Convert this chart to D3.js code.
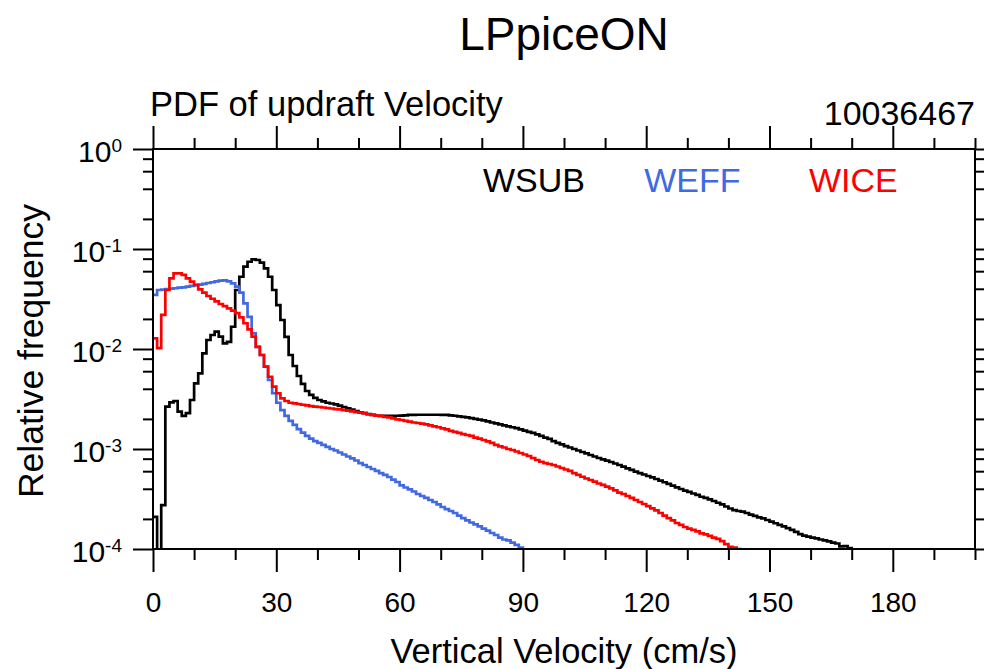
<!DOCTYPE html>
<html><head><meta charset="utf-8">
<script src="https://cdn.jsdelivr.net/npm/d3@7"></script>
<style>body{margin:0;background:#fff}svg{display:block}text{font-family:"Liberation Sans",Arial,sans-serif}</style>
</head><body><svg id="c" width="984" height="669"></svg>
<script>
// ---- data (bin width 1 cm/s, starting at 0) ----
const titleText = "LPpiceON";
const leftTitle = "PDF of updraft Velocity";
const rightTitle = "10036467";
const xLabel = "Vertical Velocity (cm/s)";
const yLabel = "Relative frequency";
const seriesNames = ["WSUB", "WEFF", "WICE"];
const seriesColors = ["#000000", "#4169e1", "#ff0000"];
const xMajorTicks = [0, 30, 60, 90, 120, 150, 180];
const yMajorExp = [0, -1, -2, -3, -4];

const wsub = [2.10e-4,0,2.75e-4,2.65e-3,2.93e-3,3.02e-3,2.36e-3,2.14e-3,2.28e-3,3.09e-3,
4.54e-3,5.71e-3,9.05e-3,1.23e-2,1.38e-2,1.49e-2,1.33e-2,1.14e-2,1.18e-2,1.67e-2,
3.89e-2,5.28e-2,6.65e-2,7.46e-2,7.88e-2,7.76e-2,7.30e-2,6.41e-2,5.28e-2,3.89e-2,
2.75e-2,1.95e-2,1.32e-2,8.71e-3,6.76e-3,5.37e-3,4.47e-3,3.80e-3,3.47e-3,3.24e-3,
3.09e-3,2.99e-3,2.90e-3,2.85e-3,2.79e-3,2.72e-3,2.63e-3,2.55e-3,2.48e-3,2.40e-3,
2.33e-3,2.28e-3,2.24e-3,2.19e-3,2.15e-3,2.14e-3,2.14e-3,2.14e-3,2.14e-3,2.15e-3,
2.16e-3,2.17e-3,2.19e-3,2.19e-3,2.20e-3,2.20e-3,2.20e-3,2.20e-3,2.20e-3,2.20e-3,
2.19e-3,2.19e-3,2.17e-3,2.15e-3,2.12e-3,2.10e-3,2.07e-3,2.04e-3,2.00e-3,1.97e-3,
1.93e-3,1.89e-3,1.84e-3,1.80e-3,1.76e-3,1.72e-3,1.68e-3,1.65e-3,1.62e-3,1.57e-3,
1.53e-3,1.48e-3,1.45e-3,1.40e-3,1.35e-3,1.30e-3,1.26e-3,1.20e-3,1.15e-3,1.11e-3,
1.07e-3,1.035e-3,1.00e-3,9.66e-4,9.33e-4,9.05e-4,8.71e-4,8.41e-4,8.13e-4,7.88e-4,
7.64e-4,7.41e-4,7.16e-4,6.92e-4,6.65e-4,6.41e-4,6.17e-4,5.93e-4,5.75e-4,5.56e-4,
5.37e-4,5.21e-4,5.01e-4,4.82e-4,4.65e-4,4.47e-4,4.30e-4,4.14e-4,3.98e-4,3.83e-4,
3.72e-4,3.59e-4,3.47e-4,3.33e-4,3.24e-4,3.13e-4,3.02e-4,2.90e-4,2.79e-4,2.66e-4,
2.54e-4,2.45e-4,2.40e-4,2.37e-4,2.29e-4,2.21e-4,2.14e-4,2.07e-4,2.02e-4,1.95e-4,
1.88e-4,1.81e-4,1.74e-4,1.68e-4,1.62e-4,1.55e-4,1.48e-4,1.41e-4,1.36e-4,1.33e-4,
1.30e-4,1.28e-4,1.245e-4,1.22e-4,1.19e-4,1.16e-4,1.135e-4,1.06e-4,1.07e-4,1.02e-4,
9.5e-5];

const weff = [3.47e-2,3.89e-2,3.92e-2,3.98e-2,4.01e-2,4.05e-2,4.10e-2,4.14e-2,4.20e-2,4.27e-2,
4.34e-2,4.40e-2,4.47e-2,4.57e-2,4.65e-2,4.75e-2,4.82e-2,4.86e-2,4.75e-2,4.54e-2,
4.20e-2,3.66e-2,2.86e-2,2.10e-2,1.435e-2,1.05e-2,8.71e-3,6.65e-3,4.90e-3,3.61e-3,
2.90e-3,2.45e-3,2.14e-3,1.91e-3,1.74e-3,1.58e-3,1.46e-3,1.35e-3,1.27e-3,1.20e-3,
1.15e-3,1.10e-3,1.05e-3,1.00e-3,9.66e-4,9.23e-4,8.81e-4,8.41e-4,8.04e-4,7.67e-4,
7.24e-4,6.92e-4,6.61e-4,6.31e-4,6.03e-4,5.75e-4,5.50e-4,5.25e-4,4.95e-4,4.68e-4,
4.32e-4,4.12e-4,3.94e-4,3.76e-4,3.55e-4,3.39e-4,3.24e-4,3.09e-4,2.95e-4,2.79e-4,
2.63e-4,2.51e-4,2.40e-4,2.29e-4,2.16e-4,2.04e-4,1.93e-4,1.84e-4,1.76e-4,1.68e-4,
1.60e-4,1.53e-4,1.445e-4,1.38e-4,1.30e-4,1.245e-4,1.22e-4,1.16e-4,1.10e-4,1.035e-4,
9.5e-5];

const wice = [1.28e-2,1.02e-2,2.19e-2,3.89e-2,5.09e-2,5.71e-2,5.71e-2,5.50e-2,5.09e-2,4.71e-2,
4.37e-2,3.95e-2,3.66e-2,3.39e-2,3.18e-2,3.00e-2,2.82e-2,2.69e-2,2.55e-2,2.42e-2,
2.28e-2,2.07e-2,1.81e-2,1.57e-2,1.33e-2,1.05e-2,8.71e-3,6.65e-3,5.28e-3,4.20e-3,
3.61e-3,3.21e-3,3.02e-3,2.90e-3,2.86e-3,2.82e-3,2.77e-3,2.73e-3,2.69e-3,2.65e-3,
2.63e-3,2.60e-3,2.57e-3,2.54e-3,2.51e-3,2.49e-3,2.45e-3,2.42e-3,2.38e-3,2.34e-3,
2.31e-3,2.28e-3,2.22e-3,2.19e-3,2.16e-3,2.14e-3,2.10e-3,2.07e-3,2.02e-3,1.98e-3,
1.95e-3,1.91e-3,1.88e-3,1.84e-3,1.82e-3,1.79e-3,1.76e-3,1.72e-3,1.68e-3,1.65e-3,
1.61e-3,1.57e-3,1.52e-3,1.48e-3,1.45e-3,1.41e-3,1.38e-3,1.35e-3,1.30e-3,1.27e-3,
1.23e-3,1.19e-3,1.15e-3,1.10e-3,1.06e-3,1.035e-3,1.00e-3,9.77e-4,9.44e-4,9.12e-4,
8.81e-4,8.51e-4,8.13e-4,7.76e-4,7.46e-4,7.24e-4,7.08e-4,6.92e-4,6.68e-4,6.46e-4,
6.24e-4,6.03e-4,5.75e-4,5.50e-4,5.28e-4,5.07e-4,4.90e-4,4.71e-4,4.52e-4,4.37e-4,
4.20e-4,4.03e-4,3.85e-4,3.67e-4,3.55e-4,3.39e-4,3.24e-4,3.09e-4,2.95e-4,2.82e-4,
2.69e-4,2.55e-4,2.43e-4,2.29e-4,2.16e-4,2.04e-4,1.93e-4,1.82e-4,1.74e-4,1.66e-4,
1.60e-4,1.55e-4,1.50e-4,1.435e-4,1.40e-4,1.35e-4,1.30e-4,1.26e-4,1.20e-4,1.12e-4,
1.05e-4,1.035e-4,1.00e-4,9.5e-5];

const seriesData = [wsub, weff, wice];

// ---- layout ----
const L = 153, R = 975, T = 149, B = 549;
const svg = d3.select("#c");
const x = d3.scaleLinear().domain([0, 200]).range([L, R]);
const y = d3.scaleLog().domain([1e-4, 1]).range([B, T]);

svg.append("defs").append("clipPath").attr("id", "clip")
  .append("rect").attr("x", L).attr("y", T).attr("width", R - L).attr("height", B - T);

const line = d3.line()
  .x(d => x(d[0]))
  .y(d => y(Math.max(d[1], 1e-7)))
  .curve(d3.curveStepAfter);
const g = svg.append("g").attr("clip-path", "url(#clip)");
seriesData.forEach((arr, k) => {
  const pts = arr.map((v, i) => [i, v]);
  pts.push([arr.length, arr[arr.length - 1]]);
  g.append("path").attr("d", line(pts)).attr("fill", "none")
    .attr("stroke", seriesColors[k]).attr("stroke-width", 2.7)
    .attr("stroke-linejoin", "miter");
});

const xMinor = d3.range(0, 201, 10).filter(v => v % 30 !== 0);
const yMinor = [];
yMajorExp.slice(0, 4).forEach(e => [2, 4, 6, 8].forEach(m => yMinor.push(m * Math.pow(10, e - 1))));
const yMajor = yMajorExp.map(e => Math.pow(10, e));

function styleAxis(sel) {
  sel.select(".domain").remove();
  sel.selectAll("line").attr("stroke", "#000").attr("stroke-width", 2);
}
svg.append("g").attr("transform", `translate(0,${B})`)
  .call(d3.axisBottom(x).tickValues(xMajorTicks).tickSize(23).tickSizeOuter(0).tickPadding(20))
  .call(styleAxis)
  .call(s => s.selectAll("text").attr("font-size", 28).attr("fill", "#000")
    .attr("font-family", "Liberation Sans, Arial, sans-serif"));
svg.append("g").attr("transform", `translate(0,${B})`)
  .call(d3.axisBottom(x).tickValues(xMinor).tickSize(11).tickFormat(""))
  .call(styleAxis);
svg.append("g").attr("transform", `translate(0,${T})`)
  .call(d3.axisTop(x).tickValues(xMajorTicks).tickSize(23).tickFormat(""))
  .call(styleAxis);
svg.append("g").attr("transform", `translate(0,${T})`)
  .call(d3.axisTop(x).tickValues(xMinor).tickSize(11).tickFormat(""))
  .call(styleAxis);

const yAx = svg.append("g").attr("transform", `translate(${L},0)`)
  .call(d3.axisLeft(y).tickValues(yMajor).tickSize(20).tickPadding(11).tickFormat(""))
  .call(styleAxis);
yAx.selectAll(".tick").each(function(d) {
  const t = d3.select(this).select("text");
  const e = Math.round(Math.log10(d));
  t.text(null).attr("font-size", 30).attr("fill", "#000").attr("text-anchor", "end")
    .attr("dy", "0.4em")
    .attr("font-family", "Liberation Sans, Arial, sans-serif");
  t.append("tspan").text("10");
  t.append("tspan").attr("dy", "-0.5em").attr("font-size", 19).text(String(e));
});
svg.append("g").attr("transform", `translate(${L},0)`)
  .call(d3.axisLeft(y).tickValues(yMinor).tickSize(10).tickFormat(""))
  .call(styleAxis);
svg.append("g").attr("transform", `translate(${R},0)`)
  .call(d3.axisRight(y).tickValues(yMajor).tickSize(20).tickFormat(""))
  .call(styleAxis);
svg.append("g").attr("transform", `translate(${R},0)`)
  .call(d3.axisRight(y).tickValues(yMinor).tickSize(10).tickFormat(""))
  .call(styleAxis);

svg.append("rect").attr("x", L).attr("y", T).attr("width", R - L).attr("height", B - T)
  .attr("fill", "none").attr("stroke", "#000").attr("stroke-width", 2);

svg.append("text").attr("x", (L + R) / 2).attr("y", 50).attr("text-anchor", "middle")
  .attr("font-size", 46).text(titleText);
svg.append("text").attr("x", L - 3).attr("y", 116).attr("font-size", 34.5).text(leftTitle);
svg.append("text").attr("x", R).attr("y", 125).attr("text-anchor", "end").attr("font-size", 34).text(rightTitle);
svg.append("text").attr("x", (L + R) / 2).attr("y", 663).attr("text-anchor", "middle")
  .attr("font-size", 34.5).text(xLabel);
svg.append("text").attr("transform", `translate(43,${(T + B) / 2 + 2}) rotate(-90)`)
  .attr("text-anchor", "middle").attr("font-size", 35.5).text(yLabel);

const legX = [x(80.3), x(119.5), x(159.6)];
seriesNames.forEach((n, k) => {
  svg.append("text").attr("x", legX[k]).attr("y", 192).attr("font-size", 34)
    .attr("fill", seriesColors[k]).text(n);
});
</script></body></html>
